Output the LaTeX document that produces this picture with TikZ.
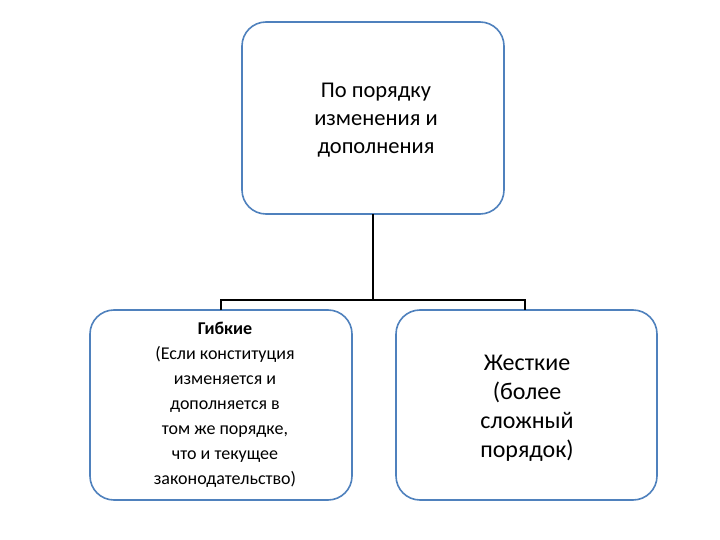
\documentclass[tikz,border=0pt]{standalone}
\usepackage{fontspec}
\setmainfont{Carlito}
\begin{document}
\begin{tikzpicture}[x=1pt,y=-1pt,
  box/.style={draw={rgb,255:red,79;green,129;blue,189}, line width=1.6pt, rounded corners=24pt, fill=white},
  conn/.style={draw=black, line width=1.4pt}]
\useasboundingbox (0,0) rectangle (720,540);
\draw[box] (242,22) rectangle (504,214);
\draw[box] (90,310) rectangle (352,500);
\draw[box] (396,310) rectangle (657,500);
\coordinate (tb) at (373,214);
\coordinate (mid) at (373,300);
\coordinate (lj) at (221,300);
\coordinate (rj) at (525,300);
\coordinate (lt) at (221,310);
\coordinate (rt) at (525,310);
\draw[conn] (tb) -- (mid);
\draw[conn] (lt) -- (lj) -- (rj) -- (rt);
\node[align=center, font=\fontsize{22.5}{28}\selectfont] (t) at (376,120) {По порядку\\ изменения и\\ дополнения};
\node[align=center, font=\fontsize{18}{25}\selectfont] (l) at (225,405) {\textbf{Гибкие}\\(Если конституция\\изменяется и\\дополняется в\\том же порядке,\\что и текущее\\законодательство)};
\node[align=center, font=\fontsize{24}{29}\selectfont] (r) at (527,408) {Жесткие\\(более\\сложный\\порядок)};
\end{tikzpicture}
\end{document}
